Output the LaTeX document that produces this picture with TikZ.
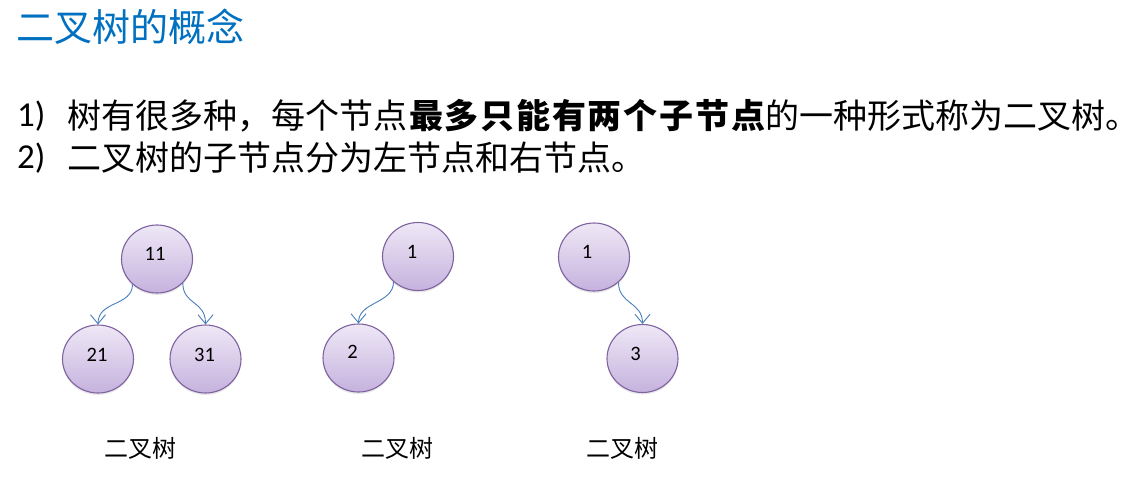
\documentclass[tikz,border=0pt]{standalone}
\usepackage{fontspec}
\setmainfont{Carlito}
\newfontfamily\cjk{Noto Sans CJK SC}
\usetikzlibrary{arrows.meta,shapes.geometric,shadows}
\definecolor{titleblue}{HTML}{0070C0}
\definecolor{nodetop}{HTML}{EEE8F6}
\definecolor{nodebot}{HTML}{C6B2DE}
\definecolor{nodeborder}{HTML}{7E62A0}
\definecolor{linkblue}{HTML}{4A7EBB}
\newcommand{\bk}{\kern1.8pt}
\tikzset{
  treenode/.style={ellipse, draw=nodeborder, line width=1.1pt, top color=nodetop, bottom color=nodebot,
    minimum width=71pt, minimum height=68pt, inner sep=0pt,
    drop shadow={opacity=0.18, shadow xshift=0pt, shadow yshift=-2pt}},
  numlabel/.style={font=\fontsize{20.5}{24}\selectfont, text=black},
  link/.style={draw=linkblue, line width=0.9pt, -{Straight Barb[length=9pt,width=15pt,line width=0.9pt]}},
  bodytext/.style={anchor=west, inner sep=0pt, font=\fontsize{35}{40}\selectfont},
  cjkbody/.style={anchor=west, inner sep=0pt, font=\cjk\fontsize{34}{40}\selectfont},
  caption/.style={inner sep=0pt, font=\cjk\fontsize{24}{28}\selectfont}
}
\begin{document}
\begin{tikzpicture}[x=1pt,y=-1pt]
\useasboundingbox (0,0) rectangle (1147,492);
% title
\node[anchor=west, inner sep=0pt, text=titleblue, font=\cjk\fontsize{38}{44}\selectfont] (title) at (16,27) {二叉树的概念};
% body lines
\node[bodytext] (n1) at (17,116) {1)};
\node[cjkbody] (l1) at (67,116) {树有很多种，每个节点{\bfseries\bk 最\bk 多\bk 只\bk 能\bk 有\bk 两\bk 个\bk 子\bk 节\bk 点}的一种形式称为二叉树。};
\node[bodytext] (n2) at (17,158) {2)};
\node[cjkbody] (l2) at (67,158) {二叉树的子节点分为左节点和右节点。};
% tree 1
\node[treenode, label={[numlabel,xshift=-2pt,yshift=5pt]center:11}] (p11) at (157,259) {};
\node[treenode, label={[numlabel,xshift=-1pt,yshift=4pt]center:21}] (c21) at (98,359) {};
\node[treenode, label={[numlabel,xshift=-1pt,yshift=4pt]center:31}] (c31) at (205.5,359) {};
\draw[link] (p11.-134) .. controls +(0,22) and +(0,-24) .. (c21.north);
\draw[link] (p11.-43) .. controls +(0,22) and +(0,-24) .. (c31.north);
% tree 2
\node[treenode, label={[numlabel,xshift=-6pt,yshift=5pt]center:1}] (p1a) at (418,256.5) {};
\node[treenode, label={[numlabel,xshift=-6pt,yshift=6pt]center:2}] (c2) at (358.5,358) {};
\draw[link] (p1a.-134) .. controls +(0,22) and +(0,-22) .. (c2.north);
% tree 3
\node[treenode, label={[numlabel,xshift=-7pt,yshift=5pt]center:1}] (p1b) at (594,257) {};
\node[treenode, label={[numlabel,xshift=-7pt,yshift=5pt]center:3}] (c3) at (642.5,358.5) {};
\draw[link] (p1b.-46) .. controls +(0,22) and +(0,-22) .. (c3.north);
% captions
\node[caption] (cap1) at (140,448) {二叉树};
\node[caption] (cap2) at (397,448) {二叉树};
\node[caption] (cap3) at (622,448) {二叉树};
\end{tikzpicture}
\end{document}
